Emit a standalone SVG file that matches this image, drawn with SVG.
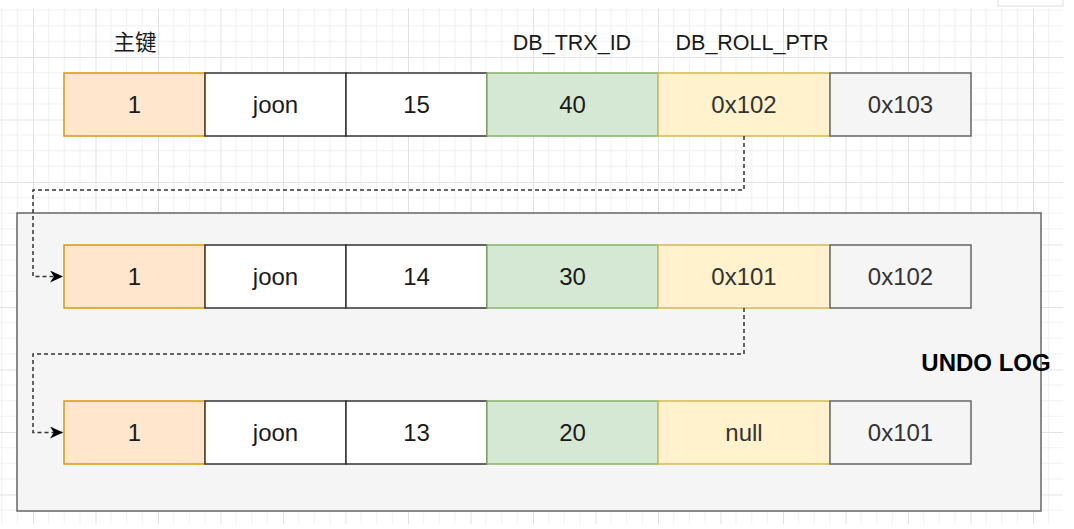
<svg xmlns="http://www.w3.org/2000/svg" width="1074" height="529" viewBox="0 0 1074 529">
<style>
text{font-family:"Liberation Sans",Arial,sans-serif;text-anchor:middle;dominant-baseline:central}
.cell{font-size:24px;fill:#1a1a1a}
.gcell{font-size:24px;fill:#333}
.lbl{font-size:21.5px;fill:#1a1a1a}
.pk{fill:#ffe6cc;stroke:#d79b00;stroke-width:1.5}
.wh{fill:#fff;stroke:#333;stroke-width:1.5}
.gr{fill:#d5e8d4;stroke:#82b366;stroke-width:1.5}
.ye{fill:#fff2cc;stroke:#d6b656;stroke-width:1.5}
.gy{fill:#f5f5f5;stroke:#666;stroke-width:1.5}
.conn{fill:none;stroke:#333;stroke-width:1.5;stroke-dasharray:4 3}
</style>
<defs>
<pattern id="grid" patternUnits="userSpaceOnUse" x="33" y="-5.5" width="62.5" height="62.5">
<path d="M15.625 0V62.5M31.25 0V62.5M46.875 0V62.5M0 15.625H62.5M0 31.25H62.5M0 46.875H62.5" stroke="#f0f0f0" stroke-width="1" fill="none"/>
<path d="M0.5 0V62.5M0 0.5H62.5" stroke="#e2e2e2" stroke-width="1" fill="none"/>
</pattern>
<marker id="arr" viewBox="0 0 10 10" refX="10" refY="5" markerWidth="13" markerHeight="12" markerUnits="userSpaceOnUse" orient="auto" preserveAspectRatio="none">
<path d="M0 0L10 5L0 10L3 5Z" fill="#000"/>
</marker>
</defs>
<rect width="1074" height="529" fill="#fff"/>
<rect x="0" y="8" width="1063" height="516" fill="url(#grid)"/>
<rect x="998" y="-2" width="65" height="8" fill="#fff" stroke="#ddd"/>

<g id="undo-log">
<rect x="17" y="213" width="1024" height="298" fill="#f5f5f5" stroke="#666" stroke-width="1.5"/>
<text x="986" y="362" style="font-size:24px;font-weight:bold;fill:#000">UNDO LOG</text>
</g>

<g id="labels">
<text class="lbl" x="135" y="43" style="font-family:'Liberation Sans','Noto Sans CJK SC',sans-serif;font-size:21.5px">主键</text>
<text class="lbl" x="572" y="43">DB_TRX_ID</text>
<text class="lbl" x="752" y="43">DB_ROLL_PTR</text>
</g>

<g id="row1">
<rect class="pk" x="64" y="73" width="141" height="63"/><text class="cell" x="134.5" y="104.5">1</text>
<rect class="wh" x="205" y="73" width="141" height="63"/><text class="cell" x="275.5" y="104.5">joon</text>
<rect class="wh" x="346" y="73" width="141" height="63"/><text class="cell" x="416.5" y="104.5">15</text>
<rect class="gr" x="487" y="73" width="171" height="63"/><text class="cell" x="572.5" y="104.5">40</text>
<rect class="ye" x="658" y="73" width="172" height="63"/><text class="gcell" x="744" y="104.5">0x102</text>
<rect class="gy" x="830" y="73" width="141" height="63"/><text class="gcell" x="900.5" y="104.5">0x103</text>
</g>

<g id="row2">
<rect class="pk" x="64" y="245" width="141" height="63"/><text class="cell" x="134.5" y="276.5">1</text>
<rect class="wh" x="205" y="245" width="141" height="63"/><text class="cell" x="275.5" y="276.5">joon</text>
<rect class="wh" x="346" y="245" width="141" height="63"/><text class="cell" x="416.5" y="276.5">14</text>
<rect class="gr" x="487" y="245" width="171" height="63"/><text class="cell" x="572.5" y="276.5">30</text>
<rect class="ye" x="658" y="245" width="172" height="63"/><text class="gcell" x="744" y="276.5">0x101</text>
<rect class="gy" x="830" y="245" width="141" height="63"/><text class="gcell" x="900.5" y="276.5">0x102</text>
</g>

<g id="row3">
<rect class="pk" x="64" y="401" width="141" height="63"/><text class="cell" x="134.5" y="432.5">1</text>
<rect class="wh" x="205" y="401" width="141" height="63"/><text class="cell" x="275.5" y="432.5">joon</text>
<rect class="wh" x="346" y="401" width="141" height="63"/><text class="cell" x="416.5" y="432.5">13</text>
<rect class="gr" x="487" y="401" width="171" height="63"/><text class="cell" x="572.5" y="432.5">20</text>
<rect class="ye" x="658" y="401" width="172" height="63"/><text class="gcell" x="744" y="432.5">null</text>
<rect class="gy" x="830" y="401" width="141" height="63"/><text class="gcell" x="900.5" y="432.5">0x101</text>
</g>

<g id="connectors">
<path class="conn" d="M744 136V190H33V276.5H63" marker-end="url(#arr)"/>
<path class="conn" d="M744 308V354H33V432.5H63" marker-end="url(#arr)"/>
</g>
</svg>
